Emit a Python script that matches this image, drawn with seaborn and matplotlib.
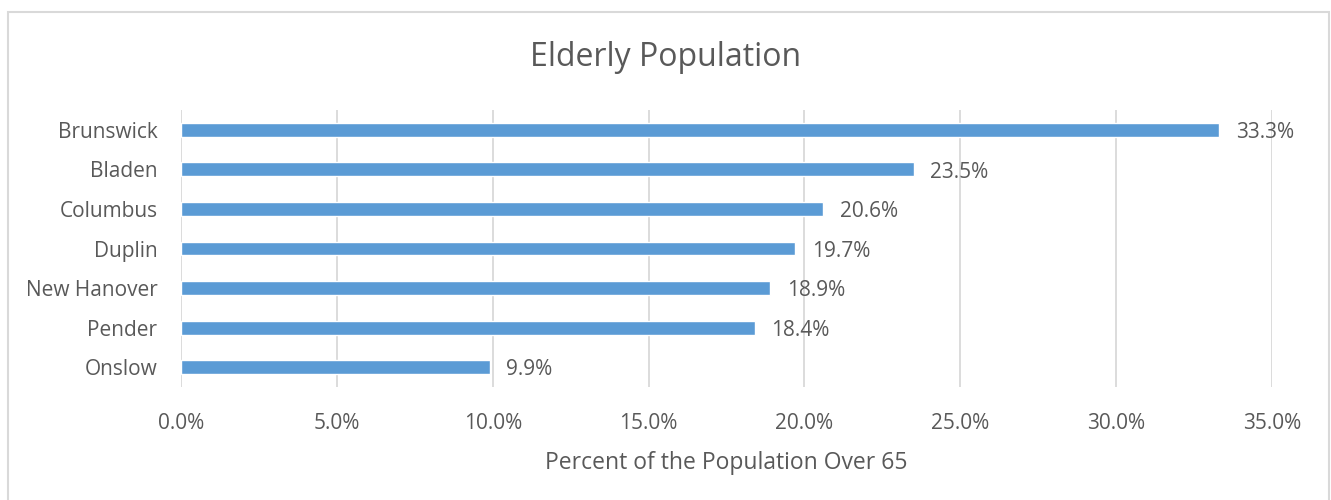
import numpy as np
import pandas as pd
import matplotlib.pyplot as plt
import seaborn as sns
from matplotlib.patches import Rectangle

# Data
counties = ['Brunswick', 'Bladen', 'Columbus', 'Duplin', 'New Hanover', 'Pender', 'Onslow']
pct_over_65 = [33.3, 23.5, 20.6, 19.7, 18.9, 18.4, 9.9]
x_ticks = [0, 5, 10, 15, 20, 25, 30, 35]

df = pd.DataFrame({'County': counties, 'Pct': pct_over_65})

sns.set_theme(style='white')
plt.rcParams['font.family'] = ['Open Sans', 'DejaVu Sans']
text_col = '#595959'
bar_col = '#5B9BD5'
grid_col = '#D9D9D9'

fig = plt.figure(figsize=(13.31, 5.0), dpi=100)
ax = fig.add_axes([181 / 1331, 1 - 387 / 500, (1272 - 181) / 1331, (387 - 110) / 500])

sns.barplot(data=df, x='Pct', y='County', color=bar_col, width=0.35,
            saturation=1, ax=ax, orient='h')

ax.set_xlim(0, 35)
ax.set_ylim(6.5, -0.5)
ax.set_xticks(x_ticks)
ax.set_xticklabels([f'{t:.1f}%' for t in x_ticks])
ax.xaxis.grid(True, color=grid_col, linewidth=1.3)
ax.yaxis.grid(False)
ax.set_axisbelow(True)
for s in ax.spines.values():
    s.set_visible(False)
ax.tick_params(axis='both', length=0, labelsize=15, labelcolor=text_col)
ax.tick_params(axis='x', pad=19)
ax.tick_params(axis='y', pad=17)

for i, v in enumerate(pct_over_65):
    ax.annotate(f'{v:.1f}%', xy=(v, i), xytext=(12, -2), textcoords='offset points',
                va='center', ha='left', fontsize=15, color=text_col)

ax.set_xlabel('Percent of the Population Over 65', fontsize=16.5, color=text_col, labelpad=12)
ax.set_ylabel('')
fig.text(0.5, 1 - 58 / 500, 'Elderly Population', ha='center', va='center',
         fontsize=23, color=text_col)

# light chart border like the spreadsheet chart area
fig.patches.append(Rectangle((8 / 1331, -0.01), (1329 - 8) / 1331, 1 - 12 / 500 + 0.01,
                             transform=fig.transFigure, fill=False,
                             edgecolor=grid_col, linewidth=1.5))

fig.savefig('out.png', dpi=100)
